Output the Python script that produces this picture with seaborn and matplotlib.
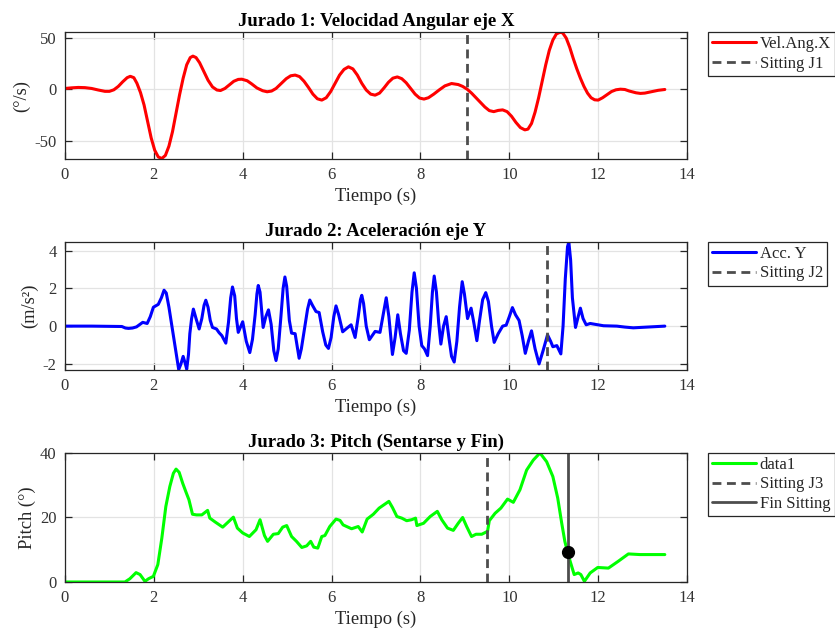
import matplotlib
matplotlib.use("Agg")
import matplotlib.pyplot as plt
import seaborn as sns
import pandas as pd

# ---------------- data ----------------
t1 = [0.0, 0.15, 0.3, 0.45, 0.6, 0.75, 0.9, 1.0, 1.1, 1.2, 1.3, 1.4, 1.47, 1.55, 1.62, 1.7, 1.78, 1.86,
      1.94, 2.02, 2.1, 2.18, 2.26, 2.34, 2.42, 2.5, 2.58, 2.66, 2.74, 2.82, 2.88, 2.95, 3.03, 3.12,
      3.22, 3.32, 3.42, 3.5, 3.6, 3.7, 3.8, 3.9, 3.98, 4.1, 4.2, 4.32, 4.45, 4.55, 4.65, 4.75, 4.87,
      4.98, 5.08, 5.18, 5.28, 5.38, 5.48, 5.58, 5.68, 5.78, 5.88, 5.98, 6.08, 6.18, 6.28, 6.38, 6.48,
      6.58, 6.68, 6.78, 6.88, 6.98, 7.08, 7.18, 7.28, 7.38, 7.48, 7.58, 7.68, 7.78, 7.88, 7.98, 8.08,
      8.18, 8.3, 8.42, 8.55, 8.7, 8.85, 8.95, 9.05, 9.15, 9.25, 9.35, 9.45, 9.55, 9.65, 9.75, 9.85,
      9.95, 10.05, 10.15, 10.25, 10.35, 10.42, 10.5, 10.58, 10.66, 10.74, 10.82, 10.9, 10.98, 11.06,
      11.14, 11.2, 11.28, 11.36, 11.44, 11.52, 11.6, 11.68, 11.76, 11.84, 11.92, 12.0, 12.1, 12.2,
      12.3, 12.4, 12.5, 12.6, 12.7, 12.85, 12.95, 13.05, 13.2, 13.35, 13.5]
velx = [1.0, 1.6, 2.0, 1.8, 1.0, -0.5, -1.8, -1.8, -0.3, 3, 7.5, 11.5, 12.8, 11.5, 6, -3, -15, -31,
        -47, -59, -65.5, -67, -64, -55, -41, -23, -5, 11, 24, 31, 32.4, 31, 26, 18,
        9, 2.5, -0.5, -1, 1, 4.5, 8, 9.8, 10, 8.5, 5.5, 1.5, -1.2, -2.2, -1.5, 1, 6,
        10.5, 13.3, 14, 12.5, 8, 2, -4.5, -9, -10.3, -8, -2, 6, 14, 19.5, 22, 20,
        14, 6, -0.5, -4.5, -5.5, -3.5, 1.5, 7, 11, 12.2, 10.5, 6.5, 1, -4.5, -8.3, -9.3,
        -8, -4.5, -0.5, 3.5, 5.8, 4.8, 3, 0.3, -3.5, -8, -12.5, -17, -20.5, -21.5, -20.3, -19.8,
        -21.5, -26, -32, -37, -39.2, -38.5, -33, -22, -8, 8, 24, 38, 48, 54,
        55.5, 55, 50, 41, 30, 20, 11, 3, -3.5, -8, -10, -10.3, -8, -5,
        -2, -0.3, 0.3, 0, -1.5, -3.2, -3.8, -3.5, -2.2, -0.8, 0]

t2 = [0.0, 0.6, 1.28, 1.36, 1.43, 1.52, 1.61, 1.68, 1.75, 1.85, 1.92, 1.99, 2.1, 2.17, 2.23, 2.28, 2.34,
      2.4, 2.48, 2.56, 2.61, 2.66, 2.71, 2.74, 2.78, 2.81, 2.85, 2.89, 2.95, 3.02, 3.08, 3.13, 3.17,
      3.22, 3.27, 3.32, 3.41, 3.47, 3.53, 3.62, 3.68, 3.73, 3.77, 3.82, 3.86, 3.9, 4.0, 4.08, 4.16,
      4.22, 4.28, 4.32, 4.35, 4.39, 4.46, 4.52, 4.58, 4.64, 4.7, 4.75, 4.8, 4.86, 4.91, 4.95, 4.99,
      5.05, 5.1, 5.18, 5.27, 5.32, 5.4, 5.46, 5.51, 5.57, 5.65, 5.72, 5.8, 5.87, 5.93, 5.99, 6.05,
      6.1, 6.16, 6.25, 6.35, 6.44, 6.53, 6.6, 6.65, 6.68, 6.72, 6.78, 6.85, 6.98, 7.09, 7.16, 7.23,
      7.29, 7.37, 7.43, 7.49, 7.55, 7.62, 7.68, 7.75, 7.81, 7.86, 7.91, 7.97, 8.03, 8.09, 8.16, 8.22,
      8.27, 8.31, 8.36, 8.41, 8.46, 8.52, 8.58, 8.64, 8.7, 8.76, 8.82, 8.88, 8.94, 8.99, 9.06, 9.14,
      9.2, 9.27, 9.33, 9.4, 9.47, 9.53, 9.6, 9.66, 9.75, 9.85, 9.93, 10.0, 10.07, 10.14, 10.22,
      10.29, 10.36, 10.43, 10.5, 10.58, 10.67, 10.76, 10.86, 10.93, 10.98, 11.07, 11.16, 11.21,
      11.26, 11.31, 11.34, 11.38, 11.42, 11.49, 11.55, 11.6, 11.66, 11.73, 11.82, 12.12, 12.42,
      12.6, 12.79, 13.1, 13.5]
accy = [0, 0, -0.02, -0.1, -0.12, -0.1, -0.04, 0.08, 0.2, 0.14, 0.5, 1.0, 1.15, 1.5, 1.9, 1.75, 1.0,
        0.1, -1.1, -2.3, -2.0, -1.6, -2.0, -2.28, -1.5, -0.4, 0.4, 0.9, 0.4, -0.15, 0.4, 1.1, 1.37,
        1.0, 0.3, -0.07, -0.15, -0.35, -0.5, -0.9, 0.2, 1.5, 2.07, 1.6, 0.4, -0.33, 0.23, -0.8, -1.4,
        -0.7, 0.6, 1.7, 2.15, 1.8, -0.07, 0.5, 0.86, 0.1, -1.3, -1.82, -1.2, 0.5, 2.0, 2.6, 2.1,
        0.3, -0.37, -0.4, -1.7, -1.2, 0.0, 0.9, 1.38, 1.1, 0.77, 0.72, -0.3, -1.0, -1.18, -0.6, 0.5,
        1.07, 0.6, -0.3, -0.1, 0.07, -0.6, 0.5, 1.4, 1.63, 1.2, 0.0, -0.72, -0.28, -0.33, 0.6, 1.5,
        0.5, -1.5, -0.6, 0.6, -0.4, -1.3, -1.44, -0.2, 1.8, 2.82, 2.0, 0.0, -1.03, -1.2, -1.56, 0.0,
        1.8, 2.65, 1.8, 0.2, -0.95, 0.0, 0.5, -0.6, -1.6, -1.9, -0.8, 1.0, 2.35, 1.7, 0.4, 0.95,
        0.2, -0.77, 0.3, 1.4, 1.77, 1.3, 0.0, -0.86, -0.4, 0.0, 0.05, 0.5, 0.98, 0.6, 0.3,
        -0.5, -1.44, -0.8, -0.25, -1.2, -2.0, -1.3, -0.46, -0.8, -1.09, -1.03, -1.47, 0.0,
        2.5, 4.2, 4.45, 3.5, 1.5, -0.07, 0.5, 0.95, 0.4, 0.07, 0.14, 0.02, 0.0,
        -0.05, -0.09, -0.05, 0.0]

t3 = [0.0, 1.35, 1.46, 1.6, 1.69, 1.8, 1.88, 1.99, 2.09, 2.18, 2.27, 2.36, 2.44, 2.5, 2.57, 2.65, 2.72,
      2.79, 2.87, 2.96, 3.08, 3.21, 3.26, 3.38, 3.55, 3.79, 3.88, 4.0, 4.15, 4.3, 4.39, 4.49, 4.56,
      4.69, 4.8, 4.9, 4.99, 5.1, 5.21, 5.33, 5.44, 5.53, 5.6, 5.69, 5.78, 5.85, 5.96, 6.1, 6.19, 6.26,
      6.45, 6.6, 6.69, 6.8, 6.94, 7.07, 7.29, 7.37, 7.47, 7.58, 7.69, 7.8, 7.89, 7.92, 8.07, 8.22,
      8.38, 8.48, 8.61, 8.74, 8.85, 8.95, 9.04, 9.15, 9.25, 9.38, 9.51, 9.55, 9.68, 9.81, 9.96, 10.09,
      10.24, 10.39, 10.54, 10.69, 10.84, 10.98, 11.09, 11.18, 11.25, 11.31, 11.37, 11.46, 11.55,
      11.61, 11.69, 11.82, 11.99, 12.23, 12.45, 12.68, 12.94, 13.5]
pitch = [0.0, 0.0, 1.0, 2.9, 2.3, 0.2, 1.0, 1.75, 5.4, 13.6, 23.4, 29.6, 33.7, 35.0, 34.0, 30.6, 28.0,
         25.5, 21.0, 20.8, 20.8, 22.2, 19.8, 18.6, 17.0, 20.1, 16.7, 15.2, 14.1, 16.2, 19.3, 14.4, 12.6,
         14.8, 15.0, 17.0, 17.5, 14.1, 12.6, 10.7, 11.2, 12.6, 10.8, 10.5, 14.1, 14.4, 17.2, 19.5, 19.1, 17.7,
         16.5, 17.2, 15.5, 19.5, 21.0, 22.9, 25.0, 23.1, 20.3, 19.8, 19.0, 19.3, 19.8, 17.5, 18.2, 20.3,
         21.9, 19.3, 16.7, 16.0, 18.2, 20.0, 17.2, 14.1, 14.8, 14.8, 15.7, 19.0, 21.3, 22.9, 25.7, 24.7,
         28.6, 34.7, 37.8, 40.0, 37.3, 32.7, 26.0, 18.2, 12.6, 9.3, 6.4, 2.3, 2.8,
         2.3, 0.2, 2.8, 4.5, 4.3, 6.4, 8.7, 8.5, 8.5]

sit_j1 = 9.05
sit_j2 = 10.84
sit_j3 = 9.5
fin_sit = 11.31
fin_val = 9.3

titles = ["Jurado 1: Velocidad Angular eje X", "Jurado 2: Aceleración eje Y",
          "Jurado 3: Pitch (Sentarse y Fin)"]
ylabels = ["(°/s)", "(m/s²)", "Pitch (°)"]
xlabel = "Tiempo (s)"
xticks = [0, 2, 4, 6, 8, 10, 12, 14]
yticks = [[-50, 0, 50], [-2, 0, 2, 4], [0, 20, 40]]
ylims = [(-67.5, 55.8), (-2.32, 4.45), (0, 40)]

# ---------------- style ----------------
sns.set_theme(style="whitegrid")
plt.rcParams['font.family'] = ['Liberation Serif', 'DejaVu Serif']
plt.rcParams['axes.unicode_minus'] = False

fig = plt.figure(figsize=(8.35, 6.33), dpi=100)
L, W = 0.0778, 0.745
boxes = [(0.7488, 0.9494 - 0.7488), (0.4155, 0.6177 - 0.4155), (0.0806, 0.2844 - 0.0806)]
axes = [fig.add_axes([L, b, W, h]) for b, h in boxes]

dash = (0, (3.2, 2.0))
gray = '#4d4d4d'

df1 = pd.DataFrame({"t": t1, "v": velx})
df2 = pd.DataFrame({"t": t2, "v": accy})
df3 = pd.DataFrame({"t": t3, "v": pitch})

ax = axes[0]
sns.lineplot(data=df1, x="t", y="v", ax=ax, color='#ff0000', lw=2.2, label="Vel.Ang.X")
ax.axvline(sit_j1, color=gray, lw=2, ls=dash, label="Sitting J1")

ax = axes[1]
sns.lineplot(data=df2, x="t", y="v", ax=ax, color='#0000ff', lw=2.2, label="Acc. Y")
ax.axvline(sit_j2, color=gray, lw=2, ls=dash, label="Sitting J2")

ax = axes[2]
sns.lineplot(data=df3, x="t", y="v", ax=ax, color='#00ff00', lw=2.2, label="data1")
ax.axvline(sit_j3, color=gray, lw=2, ls=dash, label="Sitting J3")
ax.axvline(fin_sit, color=gray, lw=2, ls='-', label="Fin Sitting")
ax.plot([fin_sit], [fin_val], 'o', color='black', ms=8.5, zorder=5)

for i, ax in enumerate(axes):
    ax.set_xlim(0, 14)
    ax.set_ylim(*ylims[i])
    ax.set_xticks(xticks)
    ax.set_yticks(yticks[i])
    ax.set_title(titles[i], fontsize=13.5, fontweight='bold', color='black', pad=4)
    ax.set_xlabel(xlabel, fontsize=13.3, color='#262626', labelpad=3)
    ax.set_ylabel(ylabels[i], fontsize=13.3, color='#262626', labelpad=3)
    ax.grid(True, color='#e3e3e3', lw=0.9)
    ax.set_facecolor('white')
    for s in ax.spines.values():
        s.set_visible(True)
        s.set_color('#262626')
        s.set_linewidth(0.9)
    ax.tick_params(axis='both', direction='in', length=5, width=0.9, colors='#262626',
                   labelsize=12, top=True, right=True, bottom=True, left=True, pad=6)
    ax.tick_params(axis='both', labelcolor='#333333')
    leg = ax.legend(loc='upper left', bbox_to_anchor=(1.034, 1.0), fontsize=12, frameon=True,
                    fancybox=False, edgecolor='#262626', framealpha=1, borderpad=0.25,
                    handlelength=2.6, handletextpad=0.25, labelspacing=0.2, borderaxespad=0)
    leg.get_frame().set_linewidth(0.9)

fig.savefig("out.png", dpi=100, facecolor='white')
